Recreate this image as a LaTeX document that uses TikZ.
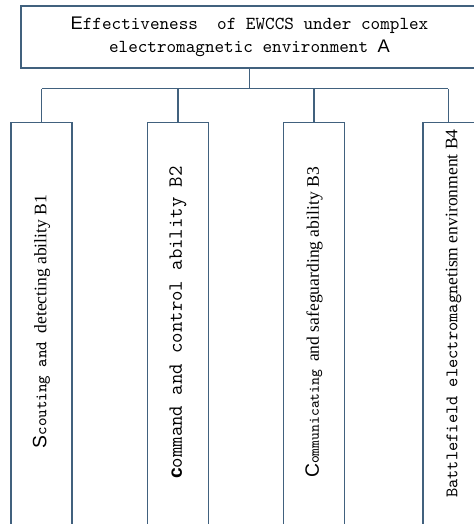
\documentclass[tikz,border=0pt]{standalone}
\usepackage{fontspec}
\setmainfont{Liberation Serif}
\newfontfamily\sansfont{Liberation Sans}
\usetikzlibrary{positioning}
\definecolor{linkblue}{RGB}{65,97,126}

\newcommand{\fsize}[1]{\fontsize{#1}{#1}\selectfont}

\tikzset{
  goalbox/.style={draw=linkblue, line width=0.6pt, minimum width=9.14cm, minimum height=1.24cm,
    align=center, inner sep=0pt, font=\fontsize{10.4}{13}\selectfont},
  abilitybox/.style={draw=linkblue, line width=0.6pt, rotate=90, anchor=east,
    minimum width=8.34cm, minimum height=1.22cm, inner sep=0pt, font=\fsize{10}},
  link/.style={linkblue, line width=0.6pt},
  droplink/.style={linkblue, line width=1.1pt}
}

\begin{document}
\begin{tikzpicture}
\useasboundingbox (0,0) rectangle (9.48,10.48);
%\draw[step=0.5cm,gray,very thin] (0,0) grid (9.5,10.5); %background grid

\node[goalbox] (goal) at (4.99,9.74) {{\sansfont E}{\ttfamily ffectiveness\ \ of EWCCS under complex}\\
  {\ttfamily electromagnetic environment }{\sansfont A}};

\node[abilitybox] (scout) at (0.83,8.04) {\hspace*{0.38cm}{\sansfont\fsize{11}S}{\ttfamily\fsize{9.2}couting and }detecting ability B1};
\node[abilitybox] (command) at (3.56,8.04) {\hspace*{0.34cm}{\sansfont\bfseries\fsize{11}c}{\ttfamily\fsize{11.5}ommand and control ability B2}};
\node[abilitybox] (commu) at (6.28,8.04) {\hspace*{0.34cm}{\sansfont\fsize{11}C}{\ttfamily\fsize{8.5}ommunicating }and safeguarding ability B3};
\node[abilitybox] (field) at (9.07,8.04) {\hspace*{0.7cm}{\ttfamily\fsize{10}Battlefield electromagn}etism environment B4};

\draw[link] (goal.south) -- ++(0,-0.4) coordinate (bus);
\draw[link] (scout.east |- bus) -- ([xshift=-3pt]field.east |- bus);

\draw[link] (scout.east) -- (scout.east |- bus);
\draw[droplink] (command.east) -- (command.east |- bus);
\draw[droplink] (commu.east) -- (commu.east |- bus);
\draw[link] ([xshift=-3pt]field.east) -- ([xshift=-3pt]field.east |- bus);
\end{tikzpicture}
\end{document}
